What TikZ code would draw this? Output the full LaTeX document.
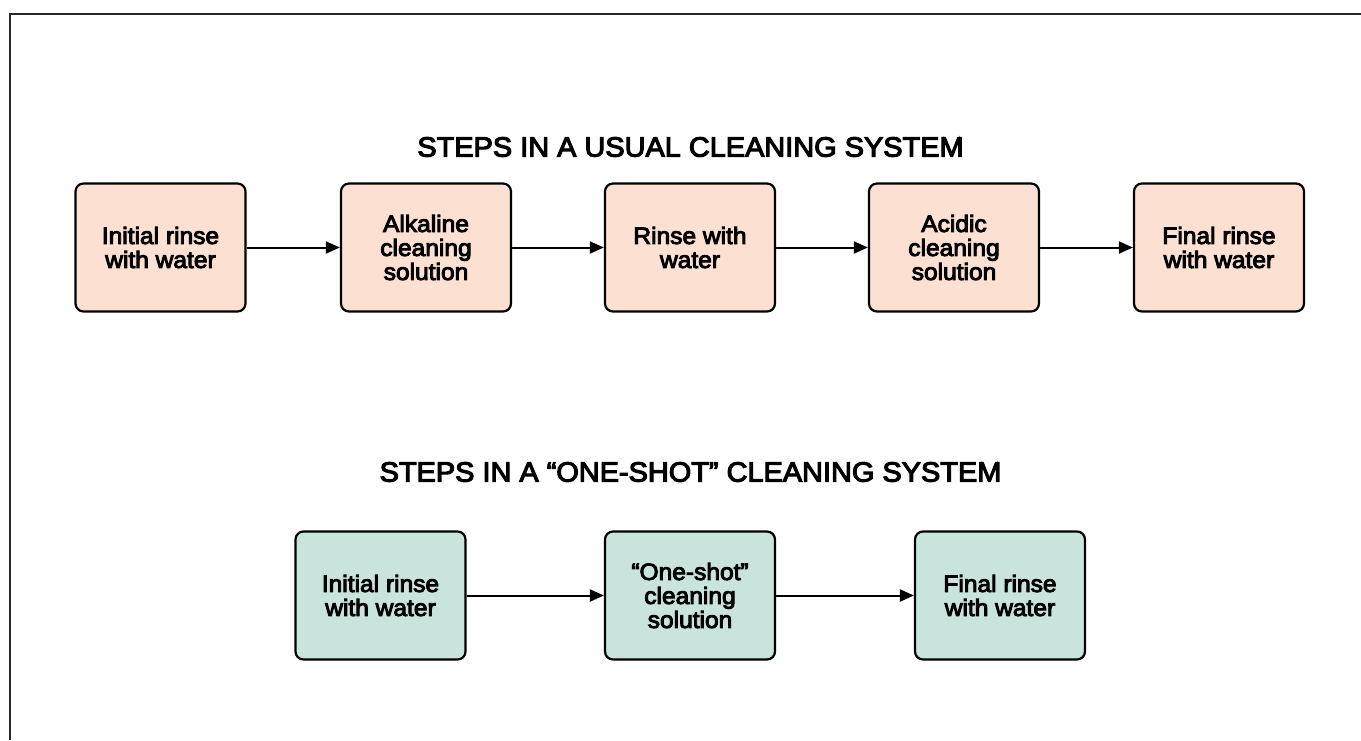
\documentclass[tikz,border=0pt]{standalone}
\usepackage{fontspec}
\setmainfont{Liberation Sans}
\newfontfamily\medfont[FakeBold=4,FakeStretch=1.04]{Liberation Sans}
\usetikzlibrary{arrows.meta}
\definecolor{peach}{RGB}{252,224,210}
\definecolor{teal}{RGB}{200,228,220}
\definecolor{frame}{RGB}{40,40,40}
\tikzset{
  stepbox/.style={draw=black, line width=2.2pt, rounded corners=8pt,
    minimum width=170pt, minimum height=128pt, align=center,
    font=\medfont\fontsize{23.6}{24}\selectfont, inner sep=0pt},
  usual/.style={stepbox, fill=peach},
  oneshot/.style={stepbox, fill=teal},
  flow/.style={draw=black, line width=2pt, -{Triangle[length=14pt,width=12pt]}},
  heading/.style={font=\medfont\fontsize{27.8}{30}\selectfont, inner sep=0pt}
}
\begin{document}
\begin{tikzpicture}[x=1pt,y=-1pt]
\useasboundingbox (0,0) rectangle (1361,740);
\coordinate (ftl) at (10,13.5);
\coordinate (ftr) at (1361,13.5);
\coordinate (fbl) at (10,740);
\draw[frame, line width=2pt] (fbl) -- (ftl) -- (ftr);

\node[heading] (t1) at (690.5,147) {STEPS IN A USUAL CLEANING SYSTEM};
\node[heading] (t2) at (690.5,472) {STEPS IN A “ONE-SHOT” CLEANING SYSTEM};

\node[usual] (a1) at (160.5,247.5) {Initial rinse\\with water};
\node[usual] (a2) at (426,247.5) {Alkaline\\cleaning\\solution};
\node[usual] (a3) at (690,247.5) {Rinse with\\water};
\node[usual] (a4) at (954,247.5) {Acidic\\cleaning\\solution};
\node[usual] (a5) at (1219,247.5) {Final rinse\\with water};

\draw[flow] (a1) -- (a2);
\draw[flow] (a2) -- (a3);
\draw[flow] (a3) -- (a4);
\draw[flow] (a4) -- (a5);

\node[oneshot] (b1) at (380.5,595.5) {Initial rinse\\with water};
\node[oneshot] (b2) at (690,595.5) {“One-shot”\\cleaning\\solution};
\node[oneshot] (b3) at (1000,595.5) {Final rinse\\with water};

\draw[flow] (b1) -- (b2);
\draw[flow] (b2) -- (b3);
\end{tikzpicture}
\end{document}
